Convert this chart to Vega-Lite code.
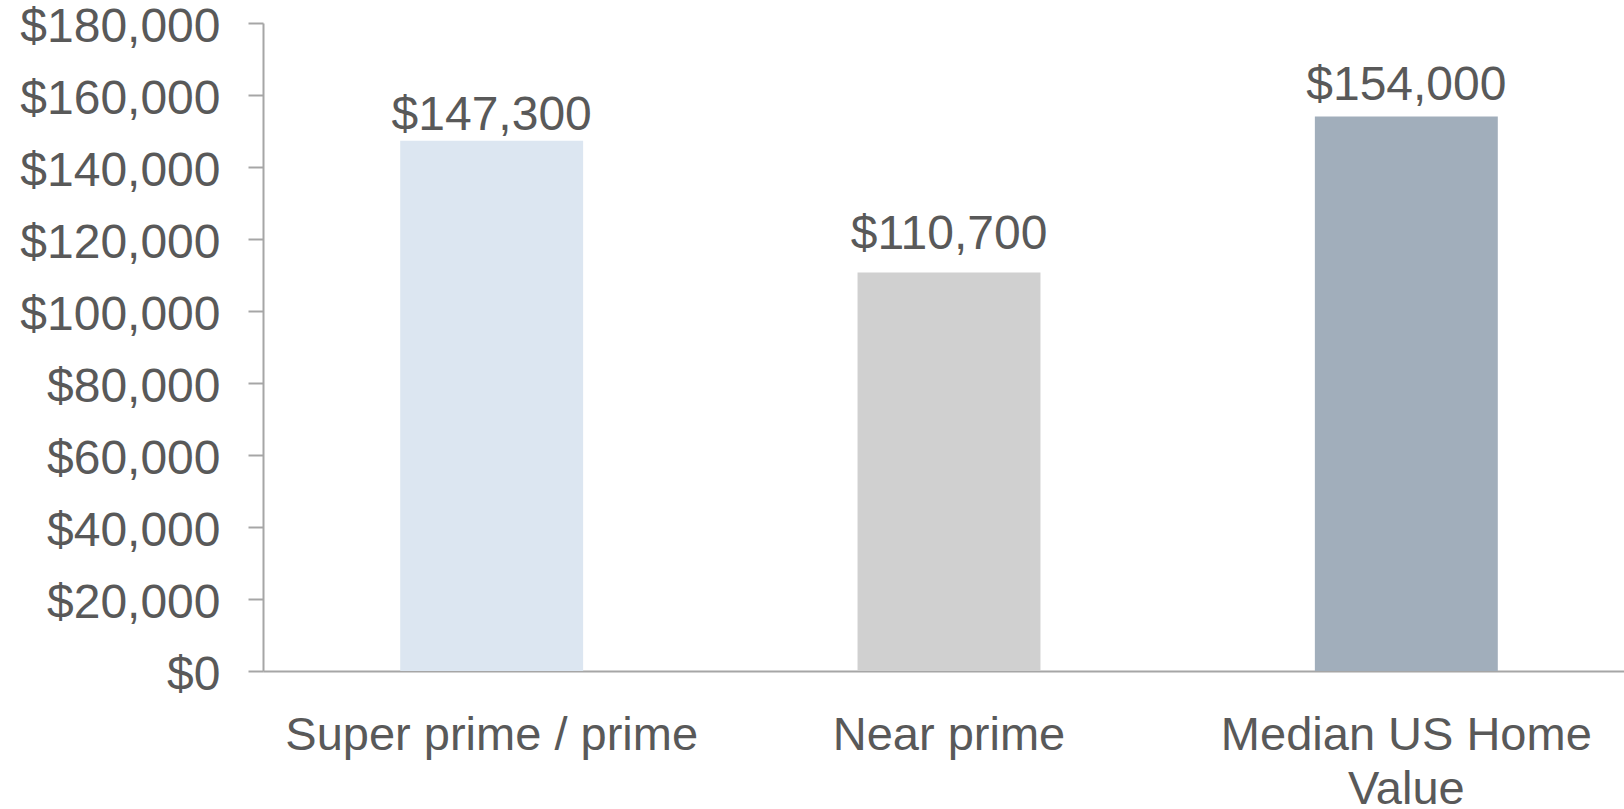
{
  "$schema": "https://vega.github.io/schema/vega-lite/v6.json",
  "autosize": {"type": "none"},
  "padding": {"left": 263, "top": 23, "right": 0, "bottom": 138},
  "width": 1372,
  "height": 648,
  "background": "white",
  "config": {
    "view": {"stroke": null},
    "font": "Liberation Sans"
  },
  "data": {
    "values": [
      {"category": "Super prime / prime", "value": 147300},
      {"category": "Near prime", "value": 110700},
      {"category": "Median US Home Value", "value": 154000}
    ]
  },
  "encoding": {
    "x": {
      "field": "category",
      "type": "nominal",
      "sort": null,
      "scale": {"paddingInner": 0.6, "paddingOuter": 0.3},
      "axis": {
        "title": null,
        "labelAngle": 0,
        "labelFontSize": 47,
        "labelColor": "#595959",
        "labelPadding": 41,
        "labelLimit": 600,
        "labelLineHeight": 54,
        "labelExpr": "datum.label == 'Median US Home Value' ? ['Median US Home', 'Value'] : datum.label",
        "ticks": false,
        "domainColor": "#A6A6A6",
        "domainWidth": 2
      }
    },
    "y": {
      "field": "value",
      "type": "quantitative",
      "scale": {"domain": [0, 180000], "nice": false},
      "axis": {
        "title": null,
        "values": [0, 20000, 40000, 60000, 80000, 100000, 120000, 140000, 160000, 180000],
        "format": "$,.0f",
        "labelFontSize": 48,
        "labelColor": "#595959",
        "labelPadding": 28,
        "labelOffset": 4,
        "labelLimit": 400,
        "tickSize": 15,
        "tickColor": "#A6A6A6",
        "tickWidth": 2,
        "domainColor": "#A6A6A6",
        "domainWidth": 2,
        "grid": false
      }
    }
  },
  "layer": [
    {
      "mark": {"type": "bar"},
      "encoding": {
        "color": {
          "field": "category",
          "type": "nominal",
          "scale": {
            "domain": ["Super prime / prime", "Near prime", "Median US Home Value"],
            "range": ["#DCE6F1", "#D0D0D0", "#A1AEBB"]
          },
          "legend": null
        }
      }
    },
    {
      "transform": [{"filter": "datum.category == 'Super prime / prime'"}],
      "mark": {"type": "text", "baseline": "bottom", "dy": -1, "fontSize": 48, "color": "#595959"},
      "encoding": {
        "text": {"field": "value", "type": "quantitative", "format": "$,.0f"}
      }
    },
    {
      "transform": [{"filter": "datum.category == 'Near prime'"}],
      "mark": {"type": "text", "baseline": "bottom", "dy": -13, "fontSize": 48, "color": "#595959"},
      "encoding": {
        "text": {"field": "value", "type": "quantitative", "format": "$,.0f"}
      }
    },
    {
      "transform": [{"filter": "datum.category == 'Median US Home Value'"}],
      "mark": {"type": "text", "baseline": "bottom", "dy": -7, "fontSize": 48, "color": "#595959"},
      "encoding": {
        "text": {"field": "value", "type": "quantitative", "format": "$,.0f"}
      }
    }
  ]
}
